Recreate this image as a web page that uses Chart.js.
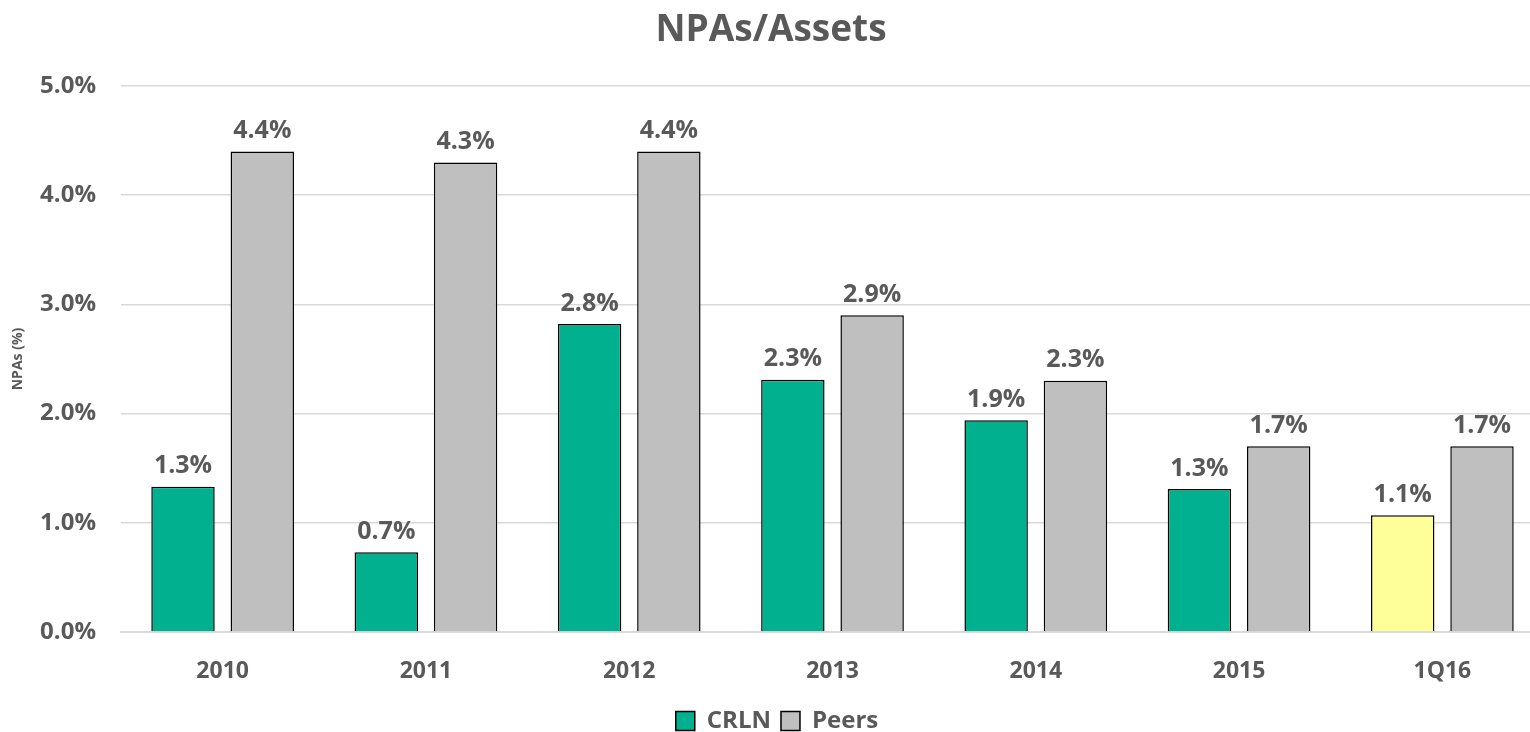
<!DOCTYPE html>
<html>
<head>
<meta charset="utf-8">
<script src="https://cdn.jsdelivr.net/npm/chart.js@4/dist/chart.umd.min.js"></script>
<style>
  html, body { margin: 0; padding: 0; background: #fff; overflow: hidden; }
  /* plot area runs slightly past the right/bottom edge in the original, so the canvas is a bit bigger and clipped */
  #wrap { width: 1530px; height: 732px; overflow: hidden; }
</style>
</head>
<body>
<div id="wrap"><canvas id="npaChart" width="1544" height="743"></canvas></div>
<script>
// data
const periods = ['2010', '2011', '2012', '2013', '2014', '2015', '1Q16'];
const crln = [1.33, 0.73, 2.82, 2.31, 1.94, 1.31, 1.07];
const peers = [4.4, 4.3, 4.4, 2.9, 2.3, 1.7, 1.7];
const yTicks = [0, 1, 2, 3, 4, 5];

const textGrey = '#595959';
const fontFam = "'Open Sans', 'Liberation Sans', sans-serif";

// green bars, last one (interim quarter) highlighted yellow
const crlnColors = periods.map((p, i) => i === periods.length - 1 ? '#FFFF99' : '#00B08F');

// title drawn by hand so it sits where the original one does
const chartTitle = {
    id: 'chartTitle',
    afterDraw(chart) {
        const ctx = chart.ctx;
        ctx.save();
        ctx.fillStyle = textGrey;
        ctx.font = 'bold 37px ' + fontFam;
        ctx.textAlign = 'center';
        ctx.textBaseline = 'middle';
        ctx.fillText('NPAs/Assets', 771, 30);
        ctx.restore();
    }
};

// labels above each bar
const valueLabels = {
    id: 'valueLabels',
    afterDatasetsDraw(chart) {
        const ctx = chart.ctx;
        ctx.save();
        ctx.fillStyle = textGrey;
        ctx.font = 'bold 25px ' + fontFam;
        ctx.textAlign = 'center';
        ctx.textBaseline = 'bottom';
        chart.data.datasets.forEach((ds, di) => {
            chart.getDatasetMeta(di).data.forEach((bar, i) => {
                ctx.fillText(ds.data[i].toFixed(1) + '%', bar.x, bar.y - 8);
            });
        });
        ctx.restore();
    }
};

const canvas = document.getElementById('npaChart');
new Chart(canvas.getContext('2d'), {
    type: 'bar',
    data: {
        labels: periods,
        datasets: [{
            label: 'CRLN',
            data: crln,
            backgroundColor: crlnColors,
            borderColor: '#000',
            borderWidth: 1.5,
            categoryPercentage: 0.78,
            barPercentage: 0.8
        }, {
            label: 'Peers',
            data: peers,
            backgroundColor: '#BFBFBF',
            borderColor: '#000',
            borderWidth: 1.5,
            categoryPercentage: 0.78,
            barPercentage: 0.8
        }]
    },
    options: {
        responsive: false,
        animation: false,
        layout: { padding: { left: 10, right: 0, top: 86, bottom: 0 } },
        plugins: {
            title: { display: false },
            legend: {
                position: 'bottom',
                labels: {
                    color: textGrey,
                    font: { family: fontFam, size: 24, weight: 'bold' },
                    boxWidth: 19,
                    boxHeight: 19,
                    padding: 10,
                    generateLabels(chart) {
                        return chart.data.datasets.map((ds, i) => ({
                            text: ds.label,
                            fillStyle: i === 0 ? '#00B08F' : '#BFBFBF',
                            strokeStyle: '#000',
                            lineWidth: 1.5,
                            fontColor: textGrey,
                            datasetIndex: i
                        }));
                    }
                }
            },
            tooltip: { enabled: false }
        },
        scales: {
            x: {
                grid: { display: false },
                border: { color: '#D9D9D9', width: 2 },
                ticks: {
                    color: textGrey,
                    font: { family: fontFam, size: 23, weight: 'bold' },
                    padding: 18
                },
                afterFit(axis) { axis.height = 67; }
            },
            y: {
                min: 0,
                max: 5,
                afterBuildTicks(axis) { axis.ticks = yTicks.map(v => ({ value: v })); },
                afterFit(axis) { axis.width = 111; },
                grid: { color: '#D9D9D9', lineWidth: 1.5, drawTicks: false },
                border: { display: false },
                title: {
                    display: true,
                    text: 'NPAs (%)',
                    color: textGrey,
                    font: { family: fontFam, size: 14, weight: 'bold' },
                    padding: { top: 0, bottom: 0 }
                },
                ticks: {
                    color: textGrey,
                    font: { family: fontFam, size: 24, weight: 'bold' },
                    padding: 25,
                    callback: v => v.toFixed(1) + '%'
                }
            }
        }
    },
    plugins: [valueLabels, chartTitle]
});
</script>
</body>
</html>
